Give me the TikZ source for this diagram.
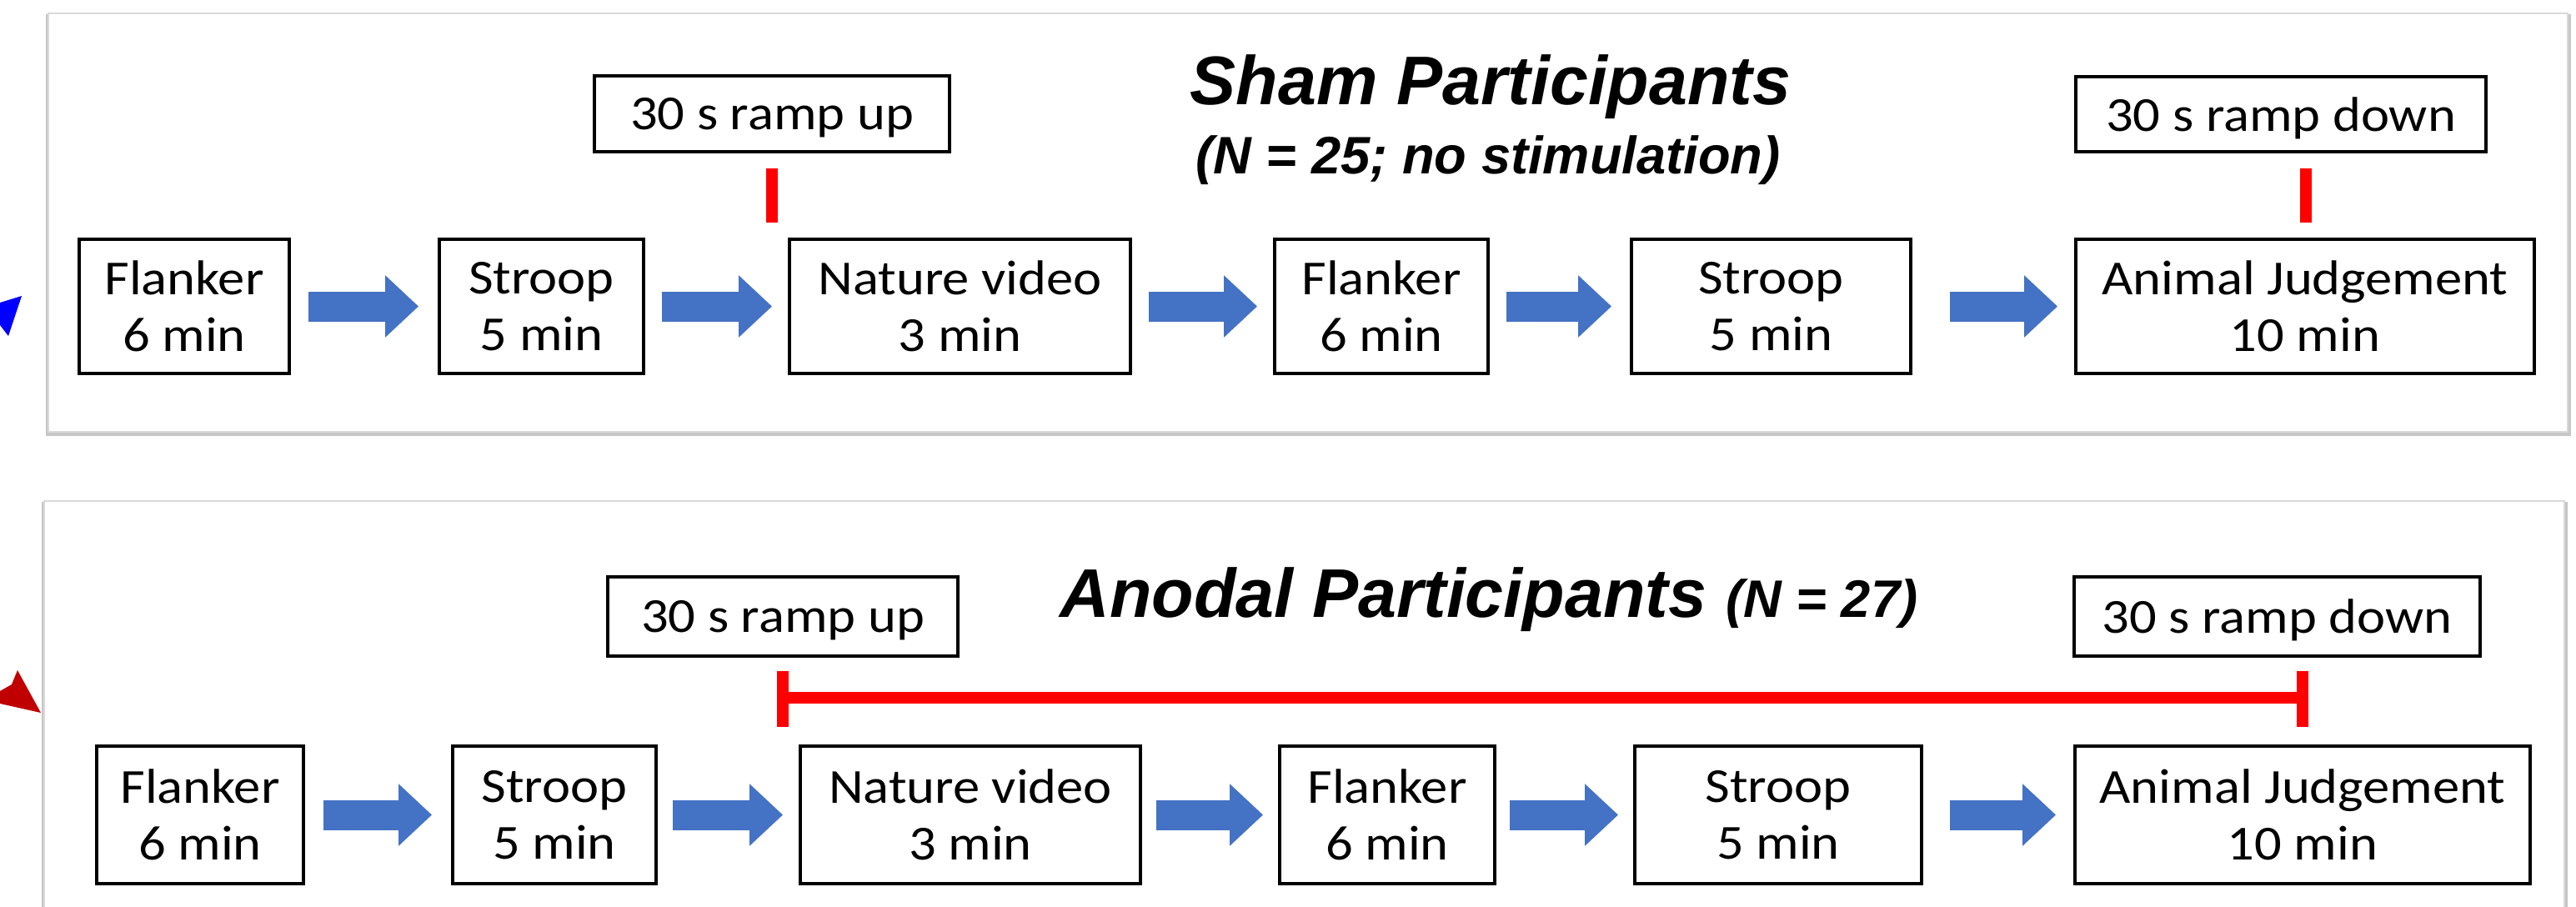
\documentclass[tikz,border=0pt]{standalone}
\usepackage{fontspec}
\setmainfont{Carlito}
\newfontfamily\boxfont{Carlito}[FakeStretch=1.1]
\newfontfamily\titlefont{Liberation Sans}
\usetikzlibrary{arrows.meta}
\definecolor{arrowblue}{HTML}{4472C4}
\definecolor{darkred}{HTML}{C00000}
\begin{document}
\begin{tikzpicture}[x=1cm,y=1cm,
  stage/.style={draw=black, line width=1.1pt, inner sep=0pt, align=center,
    font=\boxfont\fontsize{16.7}{19.3}\selectfont},
  ramp/.style={stage, text depth=0pt},
  fat/.style={draw=arrowblue, line width=0.36cm, -{Triangle[length=0.4cm,width=0.72cm]}},
  redtick/.style={draw=red, line width=0.14cm},
  panel/.style={fill=white, draw=gray!30, line width=0.8pt},
  shadowbox/.style={fill=gray!45},
  titletext/.style={inner sep=0pt, anchor=base, font=\titlefont\bfseries\itshape\fontsize{23.5}{28}\selectfont},
  subtext/.style={inner sep=0pt, anchor=base, font=\titlefont\bfseries\itshape\fontsize{18}{21}\selectfont},
]
\useasboundingbox (0,0) rectangle (30.90,10.87);
\clip (0,0) rectangle (30.90,10.87);

% panels
\fill[shadowbox] (0.55,10.70) rectangle (30.84,5.64);
\draw[panel] (0.58,10.71) rectangle (30.80,5.69);
\fill[shadowbox] (0.50,4.85) rectangle (30.80,-0.5);
\draw[panel] (0.53,4.86) rectangle (30.76,-0.5);

% left decorations (cut-off arrowheads)
\fill[blue] (0,7.24) -- (0.26,7.32) -- (0.10,6.84) -- (0,6.97) -- cycle;
\fill[darkred] (0,2.58) -- (0.14,2.66) -- (0.21,2.83) -- (0.49,2.32) -- (0,2.43) -- cycle;

% ---------- Sham (top) ----------
\node[titletext] (shamt) at (17.88,9.62) {Sham Participants};
\node[subtext] (shamn) at (17.85,8.79) {(N = 25; no stimulation)};

\node[ramp, minimum width=4.26cm, minimum height=0.91cm] (ru1) at (9.26,9.505) {30 s ramp up};
\node[ramp, minimum width=4.92cm, minimum height=0.90cm] (rd1) at (27.36,9.50) {30 s ramp down};

\node[stage, minimum width=2.52cm, minimum height=1.61cm] (f1) at (2.21,7.195) {Flanker\\6 min};
\node[stage, minimum width=2.45cm, minimum height=1.61cm] (s1) at (6.495,7.195) {Stroop\\5 min};
\node[stage, minimum width=4.09cm, minimum height=1.61cm] (n1) at (11.515,7.195) {Nature video\\3 min};
\node[stage, minimum width=2.56cm, minimum height=1.61cm] (g1) at (16.57,7.195) {Flanker\\6 min};
\node[stage, minimum width=3.35cm, minimum height=1.61cm] (t1) at (21.245,7.195) {Stroop\\5 min};
\node[stage, minimum width=5.50cm, minimum height=1.61cm] (a1) at (27.65,7.195) {Animal Judgement\\10 min};

\draw[fat, shorten <=0.21cm, shorten >=0.23cm] (f1.east) -- (s1.west);
\draw[fat, shorten <=0.20cm, shorten >=0.19cm] (s1.east) -- (n1.west);
\draw[fat, shorten <=0.20cm, shorten >=0.19cm] (n1.east) -- (g1.west);
\draw[fat, shorten <=0.20cm, shorten >=0.22cm] (g1.east) -- (t1.west);
\draw[fat, shorten <=0.45cm, shorten >=0.20cm] (t1.east) -- (a1.west);

\draw[redtick] ([yshift=-0.18cm]ru1.south) -- ([yshift=-0.83cm]ru1.south);
\draw[redtick] ([xshift=0.30cm,yshift=-0.18cm]rd1.south) -- ([xshift=0.30cm,yshift=-0.83cm]rd1.south);

% ---------- Anodal (bottom) ----------
\node[titletext] (anodt) at (17.86,3.47) {Anodal Participants {\fontsize{18}{21}\selectfont (N = 27)}};

\node[ramp, minimum width=4.20cm, minimum height=0.95cm] (ru2) at (9.39,3.475) {30 s ramp up};
\node[ramp, minimum width=4.87cm, minimum height=0.95cm] (rd2) at (27.315,3.475) {30 s ramp down};

\node[stage, minimum width=2.48cm, minimum height=1.65cm] (f2) at (2.40,1.095) {Flanker\\6 min};
\node[stage, minimum width=2.44cm, minimum height=1.65cm] (s2) at (6.65,1.095) {Stroop\\5 min};
\node[stage, minimum width=4.08cm, minimum height=1.65cm] (n2) at (11.64,1.095) {Nature video\\3 min};
\node[stage, minimum width=2.58cm, minimum height=1.65cm] (g2) at (16.64,1.095) {Flanker\\6 min};
\node[stage, minimum width=3.44cm, minimum height=1.65cm] (t2) at (21.33,1.095) {Stroop\\5 min};
\node[stage, minimum width=5.46cm, minimum height=1.65cm] (a2) at (27.62,1.095) {Animal Judgement\\10 min};

\draw[fat, shorten <=0.22cm, shorten >=0.23cm] (f2.east) -- (s2.west);
\draw[fat, shorten <=0.18cm, shorten >=0.19cm] (s2.east) -- (n2.west);
\draw[fat, shorten <=0.17cm, shorten >=0.18cm] (n2.east) -- (g2.west);
\draw[fat, shorten <=0.16cm, shorten >=0.18cm] (g2.east) -- (t2.west);
\draw[fat, shorten <=0.32cm, shorten >=0.21cm] (t2.east) -- (a2.west);

% stimulation bar
\coordinate (barL) at (9.39,2.50);
\coordinate (barR) at (27.62,2.50);
\draw[redtick] (barL) -- (barR);
\draw[redtick] ([yshift=0.32cm]barL) -- ([yshift=-0.35cm]barL);
\draw[redtick] ([yshift=0.32cm]barR) -- ([yshift=-0.35cm]barR);
\end{tikzpicture}
\end{document}
